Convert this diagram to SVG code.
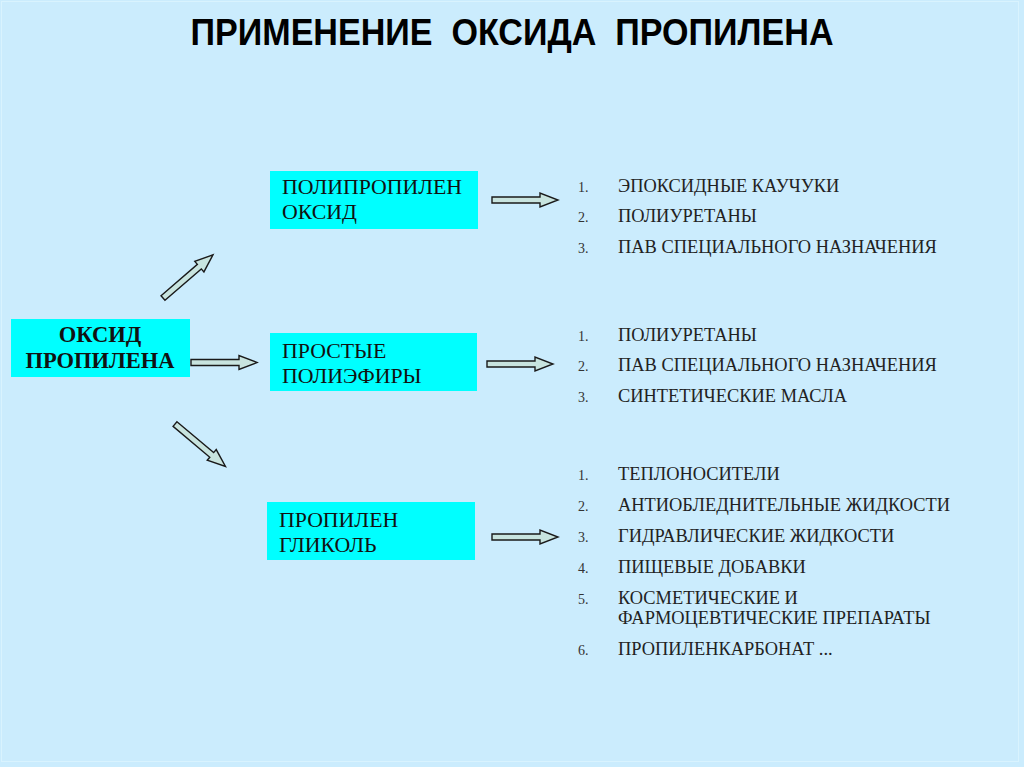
<svg xmlns="http://www.w3.org/2000/svg" xmlns:xlink="http://www.w3.org/1999/xlink" width="1024" height="767" viewBox="0 0 1024 767">
<style>
.box{fill:#00ffff}
.bt{font-family:"Liberation Serif","Times New Roman",serif;font-size:21.8px;fill:#111}
.bb{font-family:"Liberation Serif","Times New Roman",serif;font-size:22.5px;font-weight:bold;fill:#111}
.li{font-family:"Liberation Serif","Times New Roman",serif;font-size:18.4px;fill:#222}
.nu{font-family:"Liberation Serif","Times New Roman",serif;font-size:14px;fill:#333}
.arr{fill:#c8e4df;stroke:#1a1a1a;stroke-width:1.4;stroke-linejoin:miter}
</style>
<defs>
<path id="arrow" d="M0,-3 H48 V-7 L66,0 L48,7 V3 H0 Z"/>
</defs>
<rect x="0" y="0" width="1024" height="767" fill="#cbecfd"/>
<rect x="1.5" y="1.5" width="1017" height="760" fill="none" stroke="#d9f3fe" stroke-width="1"/>
<text x="512" y="45" text-anchor="middle" font-family="'Liberation Sans',Arial,sans-serif" font-size="37" font-weight="bold" fill="#000" textLength="643" lengthAdjust="spacingAndGlyphs" xml:space="preserve">ПРИМЕНЕНИЕ  ОКСИДА  ПРОПИЛЕНА</text>

<g id="node-main">
<rect class="box" x="11" y="319" width="179" height="58"/>
<text class="bb" x="100" y="342" text-anchor="middle">ОКСИД</text>
<text class="bb" x="100" y="368" text-anchor="middle">ПРОПИЛЕНА</text>
</g>
<g id="node-ppo">
<rect class="box" x="270" y="171" width="208" height="58"/>
<text class="bt" x="282" y="194">ПОЛИПРОПИЛЕН</text>
<text class="bt" x="282" y="219">ОКСИД</text>
</g>
<g id="node-ethers">
<rect class="box" x="270" y="333" width="207" height="58"/>
<text class="bt" x="282" y="358">ПРОСТЫЕ</text>
<text class="bt" x="282" y="383">ПОЛИЭФИРЫ</text>
</g>
<g id="node-glycol">
<rect class="box" x="267" y="502" width="208" height="58"/>
<text class="bt" x="279" y="527">ПРОПИЛЕН</text>
<text class="bt" x="279" y="552">ГЛИКОЛЬ</text>
</g>

<g id="connectors" class="arr">
<use xlink:href="#arrow" transform="translate(191,362.5)"/>
<use xlink:href="#arrow" transform="translate(163,298) rotate(-40.8)"/>
<use xlink:href="#arrow" transform="translate(175,424) rotate(40.1)"/>
<use xlink:href="#arrow" transform="translate(492,200)"/>
<use xlink:href="#arrow" transform="translate(487,364)"/>
<use xlink:href="#arrow" transform="translate(492,537)"/>
</g>

<g id="list-ppo">
<text class="nu" x="578" y="192">1.</text><text class="li" x="618" y="192">ЭПОКСИДНЫЕ КАУЧУКИ</text>
<text class="nu" x="578" y="222">2.</text><text class="li" x="618" y="222">ПОЛИУРЕТАНЫ</text>
<text class="nu" x="578" y="253">3.</text><text class="li" x="618" y="253">ПАВ СПЕЦИАЛЬНОГО НАЗНАЧЕНИЯ</text>
</g>
<g id="list-ethers">
<text class="nu" x="578" y="341">1.</text><text class="li" x="618" y="341">ПОЛИУРЕТАНЫ</text>
<text class="nu" x="578" y="371">2.</text><text class="li" x="618" y="371">ПАВ СПЕЦИАЛЬНОГО НАЗНАЧЕНИЯ</text>
<text class="nu" x="578" y="402">3.</text><text class="li" x="618" y="402">СИНТЕТИЧЕСКИЕ МАСЛА</text>
</g>
<g id="list-glycol">
<text class="nu" x="578" y="480">1.</text><text class="li" x="618" y="480">ТЕПЛОНОСИТЕЛИ</text>
<text class="nu" x="578" y="511">2.</text><text class="li" x="618" y="511">АНТИОБЛЕДНИТЕЛЬНЫЕ ЖИДКОСТИ</text>
<text class="nu" x="578" y="542">3.</text><text class="li" x="618" y="542">ГИДРАВЛИЧЕСКИЕ ЖИДКОСТИ</text>
<text class="nu" x="578" y="573">4.</text><text class="li" x="618" y="573">ПИЩЕВЫЕ ДОБАВКИ</text>
<text class="nu" x="578" y="604">5.</text><text class="li" x="618" y="604">КОСМЕТИЧЕСКИЕ И</text>
<text class="li" x="618" y="624">ФАРМОЦЕВТИЧЕСКИЕ ПРЕПАРАТЫ</text>
<text class="nu" x="578" y="655">6.</text><text class="li" x="618" y="655">ПРОПИЛЕНКАРБОНАТ ...</text>
</g>
</svg>
